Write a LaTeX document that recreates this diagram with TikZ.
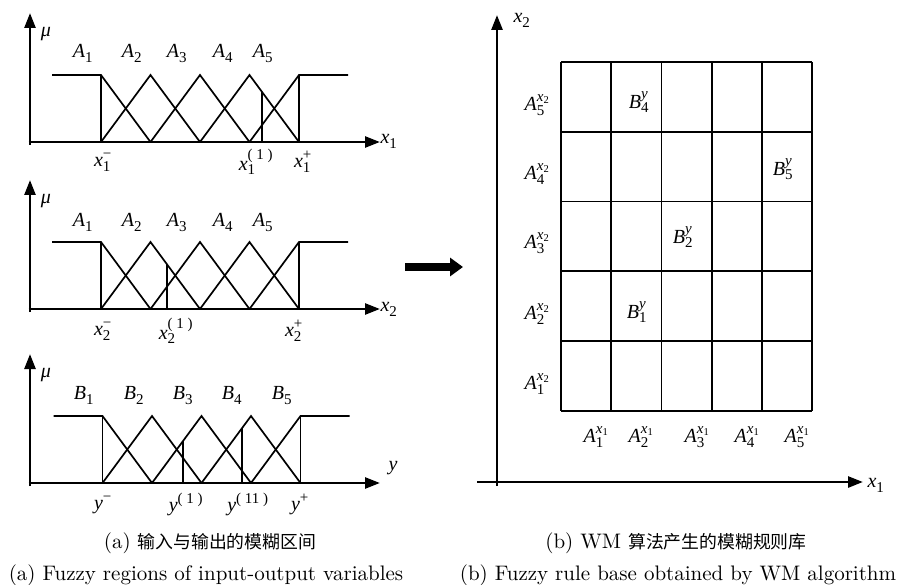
\documentclass[tikz,border=0pt]{standalone}
\usepackage{fontspec}
\newfontfamily\cjk{Noto Sans CJK SC}
\newfontfamily\tnr{Liberation Serif}
\usetikzlibrary{arrows.meta}
% letter with subscript #2 and superscript #3, Times-like
\newcommand\tl[3]{{\tnr\itshape #1}$\vphantom{A}_{\hbox{\fontsize{15}{16}\selectfont\tnr\upshape #2}}^{\hbox{\fontsize{15}{16}\selectfont\tnr #3}}$}
\newcommand\sx[1]{{\itshape x}\raisebox{-2.2pt}{\fontsize{10.5}{11}\selectfont\upshape #1}}
\begin{document}
\begin{tikzpicture}[x=1pt,y=-1pt,
  axis/.style={line width=2.6pt,-{Triangle[length=15pt,width=11pt]}},
  mf/.style={line width=1.7pt,line join=miter},
  lab/.style={inner sep=0pt,font=\fontsize{20}{22}\selectfont\tnr},
  gridline/.style={line width=1.8pt},
  captext/.style={inner sep=0pt},
  bigarrow/.style={line width=8pt,-{Triangle[length=13pt,width=18pt]}}]
\useasboundingbox (0,0) rectangle (899,585);

% ---------- panel (a): three fuzzy partitions ----------
\foreach \sh/\dx/\pan in {0/0/1,167/0/2,341/1.5/3}{
  \begin{scope}[shift={(0,\sh)}]
    \coordinate (yo\pan) at (30,145);
    \coordinate (yt\pan) at (30,13);
    \coordinate (xo\pan) at (28.7,142);
    \coordinate (xt\pan) at (380,142);
    \draw[axis] (yo\pan) -- (yt\pan);
    \draw[axis] (xo\pan) -- (xt\pan);
    \node[lab] (mu\pan) at (46,34) {\itshape μ};
    \begin{scope}[xshift=\dx]
      \draw[mf] (52,75) -- (101,75) -- (150.5,142);
      \foreach \i in {1,2,3}{
        \draw[mf] ({101+49.5*(\i-1)},142) -- ({101+49.5*\i},75) -- ({101+49.5*(\i+1)},142);
      }
      \draw[mf] (249.5,142) -- (299,75) -- (348,75);
      \draw[mf] (101,142) -- (101,75);
      \draw[mf] (299,142) -- (299,75);
    \end{scope}
  \end{scope}
}
% individual vertical cuts
\draw[mf] (262,142) -- (262,91.9);
\draw[mf] (167,309) -- (167,264.3);
\draw[mf] (183,483) -- (183,441);
\draw[mf] (242,483) -- (242,428.2);

% axis labels
\node[lab] (lx1) at (389,139) {\tl{x}{1}{}};
\node[lab] (lx2) at (389,307) {\tl{x}{2}{}};
\node[lab] (ly)  at (393,468) {\itshape y};

% membership labels panel 1
\node[lab] (a11) at (83,53) {\tl{A}{1}{}};
\node[lab] (a12) at (132,53) {\tl{A}{2}{}};
\node[lab] (a13) at (177,53) {\tl{A}{3}{}};
\node[lab] (a14) at (223,53) {\tl{A}{4}{}};
\node[lab] (a15) at (263,53) {\tl{A}{5}{}};
% panel 2
\node[lab] (a21) at (83,222) {\tl{A}{1}{}};
\node[lab] (a22) at (132,222) {\tl{A}{2}{}};
\node[lab] (a23) at (177,222) {\tl{A}{3}{}};
\node[lab] (a24) at (223,222) {\tl{A}{4}{}};
\node[lab] (a25) at (263,222) {\tl{A}{5}{}};
% panel 3
\node[lab] (b1) at (84,395) {\tl{B}{1}{}};
\node[lab] (b2) at (134,395) {\tl{B}{2}{}};
\node[lab] (b3) at (183,395) {\tl{B}{3}{}};
\node[lab] (b4) at (232,395) {\tl{B}{4}{}};
\node[lab] (b5) at (282,395) {\tl{B}{5}{}};

% interval labels
\node[lab] (x1m) at (103,162) {\tl{x}{1}{−}};
\node[lab] (x1a) at (256,162) {\tl{x}{1}{( 1 )}};
\node[lab] (x1p) at (303,162) {\tl{x}{1}{+}};
\node[lab] (x2m) at (103,331) {\tl{x}{2}{−}};
\node[lab] (x2a) at (176,331) {\tl{x}{2}{( 1 )}};
\node[lab] (x2p) at (294,331) {\tl{x}{2}{+}};
\node[lab] (ym)  at (103,505) {\tl{y}{}{−}};
\node[lab] (ya)  at (186,505) {\tl{y}{}{( 1 )}};
\node[lab] (yb)  at (248,505) {\tl{y}{}{( 11 )}};
\node[lab] (yp)  at (300,505) {\tl{y}{}{+}};

% ---------- big arrow ----------
\coordinate (arS) at (405,267);
\coordinate (arE) at (463,267);
\draw[bigarrow] (arS) -- (arE);

% ---------- panel (b): rule base ----------
\coordinate (vo) at (497,486);
\coordinate (vt) at (497,15);
\coordinate (ho) at (477,482);
\coordinate (ht) at (863,482);
\draw[axis] (vo) -- (vt);
\draw[axis] (ho) -- (ht);
\node[lab] (bx2) at (522,18) {\tl{x}{2}{}};
\node[lab] (bx1) at (876,483) {\tl{x}{1}{}};

\foreach \k in {0,...,5}{
  \draw[gridline] ({561+50.2*\k},62) -- ({561+50.2*\k},411);
  \draw[gridline] (561,{62+69.8*\k}) -- (812,{62+69.8*\k});
}

\node[lab] (r5) at (537,105) {\tl{A}{5}{\sx{2}}};
\node[lab] (r4) at (537,174) {\tl{A}{4}{\sx{2}}};
\node[lab] (r3) at (537,243) {\tl{A}{3}{\sx{2}}};
\node[lab] (r2) at (537,314) {\tl{A}{2}{\sx{2}}};
\node[lab] (r1) at (537,384) {\tl{A}{1}{\sx{2}}};

\node[lab] (c1) at (596,437) {\tl{A}{1}{\sx{1}}};
\node[lab] (c2) at (641,437) {\tl{A}{2}{\sx{1}}};
\node[lab] (c3) at (697,437) {\tl{A}{3}{\sx{1}}};
\node[lab] (c4) at (747,437) {\tl{A}{4}{\sx{1}}};
\node[lab] (c5) at (797,437) {\tl{A}{5}{\sx{1}}};

\node[lab] (rb4) at (639,102) {\tl{B}{4}{\itshape y}};
\node[lab] (rb5) at (783,169) {\tl{B}{5}{\itshape y}};
\node[lab] (rb2) at (683,237) {\tl{B}{2}{\itshape y}};
\node[lab] (rb1) at (637,312) {\tl{B}{1}{\itshape y}};

% ---------- captions ----------
\node[captext] (capaz) at (210,543) {\scalebox{2.1}{\fontsize{10}{12}\selectfont (a) {\cjk\fontsize{8.5}{10}\selectfont 输入与输出的模糊区间}}};
\node[captext] (capbz) at (676,543) {\scalebox{2.1}{\fontsize{10}{12}\selectfont (b) WM {\cjk\fontsize{8.5}{10}\selectfont 算法产生的模糊规则库}}};
\node[captext] (capae) at (206,575) {\scalebox{2.1}{\fontsize{10}{12}\selectfont (a) Fuzzy regions of input-output variables}};
\node[captext] (capbe) at (678,575) {\scalebox{2.1}{\fontsize{10}{12}\selectfont (b) Fuzzy rule base obtained by WM algorithm}};
\end{tikzpicture}
\end{document}
